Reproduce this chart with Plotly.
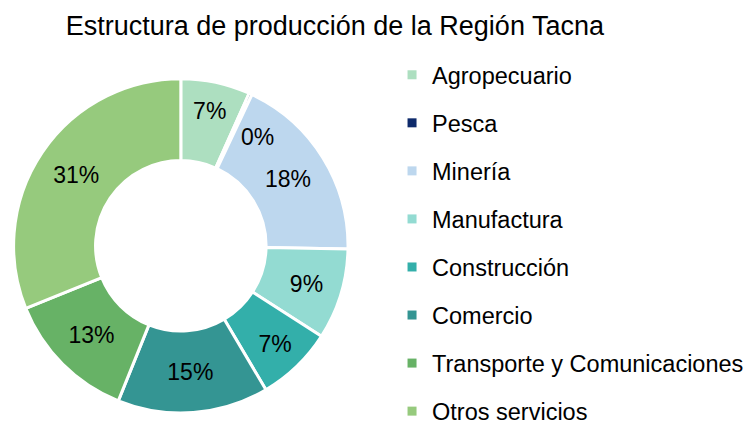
import math
import plotly.graph_objects as go

categories = ["Agropecuario", "Pesca", "Minería", "Manufactura", "Construcción",
              "Comercio", "Transporte y Comunicaciones", "Otros servicios"]
values = [6.7, 0.3, 18.3, 8.8, 7.4, 14.6, 12.8, 31.1]
colors = ["#ADDFC0", "#0E2A6B", "#BDD7EE", "#93DBD2", "#33AFAA",
          "#349593", "#67B266", "#96CA7D"]
title_text = "Estructura de producción de la Región Tacna"

FONT = "Liberation Sans, Arial, sans-serif"
W, H = 753, 425
DOM_X = [0.004, 0.455]
DOM_Y = [0.031, 0.831]
HOLE = 0.51

total = sum(values)
pcts = [v / total for v in values]
# small slices get their label placed as an annotation (nudged like Excel does)
small = [p < 0.02 for p in pcts]
texts = ["" if s else f"{round(p * 100):d}%" for p, s in zip(pcts, small)]

fig = go.Figure()
fig.add_trace(go.Pie(
    labels=categories, values=values, sort=False, direction="clockwise",
    rotation=0, hole=HOLE,
    marker=dict(colors=colors, line=dict(color="white", width=3)),
    text=texts, textinfo="text", textposition="inside",
    insidetextorientation="horizontal",
    textfont=dict(family=FONT, size=23, color="black"),
    showlegend=False, hoverinfo="label+percent",
    domain=dict(x=DOM_X, y=DOM_Y),
))

# label for tiny slices, positioned from the data (slice mid-angle)
cx = (DOM_X[0] + DOM_X[1]) / 2
cy = (DOM_Y[0] + DOM_Y[1]) / 2
R = min((DOM_X[1] - DOM_X[0]) * W, (DOM_Y[1] - DOM_Y[0]) * H) / 2
cum = 0.0
for p, s in zip(pcts, small):
    if s:
        theta = 2 * math.pi * (cum + p / 2)
        r = R * 0.815
        fig.add_annotation(
            x=cx + r * math.sin(theta) / W, y=cy + r * math.cos(theta) / H,
            xref="paper", yref="paper", text=f"{round(p * 100):d}%",
            showarrow=False, font=dict(family=FONT, size=23, color="black"),
        )
    cum += p

# legend proxies (one per category, so item gaps can be set)
for cat, col in zip(categories, colors):
    fig.add_trace(go.Scatter(
        x=[None], y=[None], mode="markers", name=cat, legendgroup=cat,
        marker=dict(symbol="square", size=9, color=col),
        showlegend=True, hoverinfo="skip",
    ))

fig.update_layout(
    width=W, height=H,
    margin=dict(l=0, r=0, t=0, b=0),
    paper_bgcolor="white", plot_bgcolor="white",
    title=dict(text=title_text, x=0.434, xanchor="center", y=0.959, yanchor="middle",
               font=dict(family=FONT, size=27, color="black")),
    xaxis=dict(visible=False), yaxis=dict(visible=False),
    legend=dict(x=0.510, y=0.847, xanchor="left", yanchor="top",
                font=dict(family=FONT, size=23.5, color="black"),
                tracegroupgap=14.5, maxheight=800, bgcolor="rgba(0,0,0,0)"),
)

fig.write_html("out.html")
